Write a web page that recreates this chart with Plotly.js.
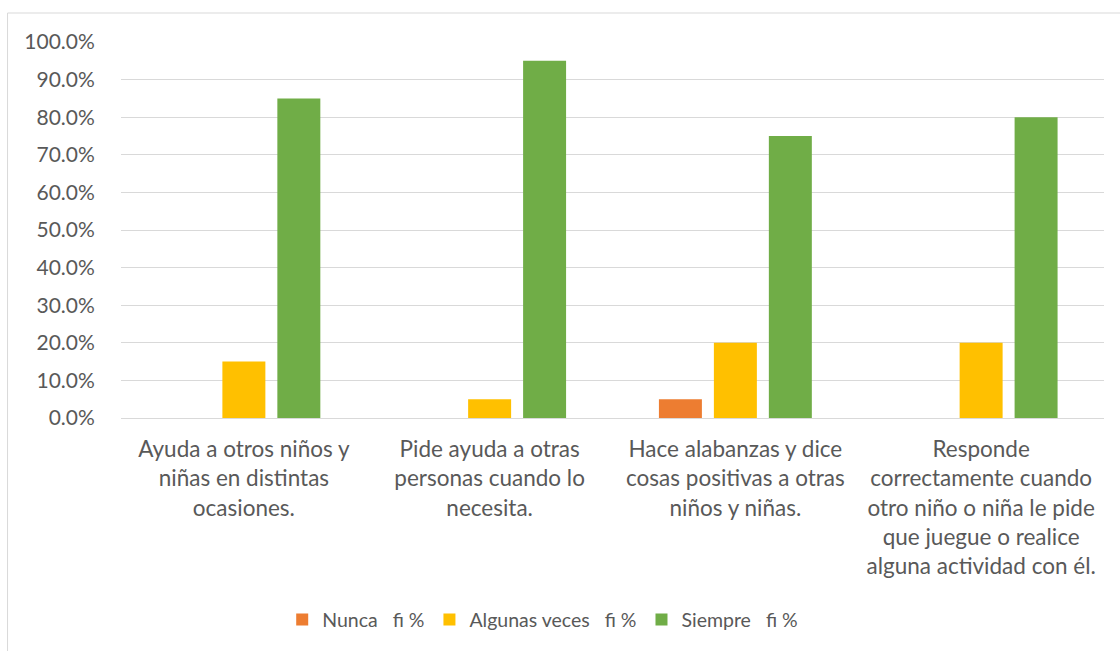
<!DOCTYPE html>
<html>
<head>
<meta charset="utf-8">
<script src="https://cdn.plot.ly/plotly-3.0.1.min.js"></script>
<style>html,body{margin:0;padding:0;background:#fff;}#chart{width:1120px;height:651px;}</style>
</head>
<body>
<div id="chart"></div>
<script>
const categories = [
  "Ayuda a otros niños y niñas en distintas ocasiones.",
  "Pide ayuda a otras personas cuando lo necesita.",
  "Hace alabanzas y dice cosas positivas a otras niños y niñas.",
  "Responde correctamente cuando otro niño o niña le pide que juegue o realice alguna actividad con él."
];
const categoryLabels = [
  "Ayuda a otros niños y<br>niñas en distintas<br>ocasiones.",
  "Pide ayuda a otras<br>personas cuando lo<br>necesita.",
  "Hace alabanzas y dice<br>cosas positivas a otras<br>niños y niñas.",
  "Responde<br>correctamente cuando<br>otro niño o niña le pide<br>que juegue o realice<br>alguna actividad con él."
];
const seriesNames = ["Nunca\u00a0\u00a0\u00a0fi %", "Algunas veces\u00a0\u00a0\u00a0fi %", "Siempre\u00a0\u00a0\u00a0fi %"];
const nunca = [0, 0, 0.05, 0];
const algunasVeces = [0.15, 0.05, 0.20, 0.20];
const siempre = [0.85, 0.95, 0.75, 0.80];
const colors = ["#ED7D31", "#FFC000", "#70AD47"];

const font = "Lato, 'Open Sans', sans-serif";
const values = [nunca, algunasVeces, siempre];
const data = values.map((v, i) => ({
  type: "bar",
  x: categories,
  y: v,
  name: seriesNames[i],
  marker: {color: colors[i]},
  hoverinfo: "y+name"
}));

const layout = {
  width: 1120,
  height: 651,
  margin: {l: 121, r: 16, t: 42, b: 233},
  paper_bgcolor: "#ffffff",
  plot_bgcolor: "#ffffff",
  font: {family: font, size: 21, color: "#595959"},
  barmode: "group",
  bargap: 0.329,
  bargroupgap: 0.218,
  xaxis: {
    tickmode: "array",
    tickvals: categories,
    ticktext: categoryLabels,
    ticks: "outside",
    ticklen: 11,
    tickcolor: "rgba(0,0,0,0)",
    showline: false,
    showgrid: false,
    zeroline: false,
    tickfont: {family: font, size: 22.5, color: "#595959"}
  },
  yaxis: {
    range: [0, 1],
    tickvals: [0, 0.1, 0.2, 0.3, 0.4, 0.5, 0.6, 0.7, 0.8, 0.9, 1.0],
    tickformat: ".1%",
    ticks: "outside",
    ticklen: 21,
    tickcolor: "rgba(0,0,0,0)",
    gridcolor: "#D9D9D9",
    gridwidth: 1,
    zeroline: true,
    zerolinecolor: "#D9D9D9",
    zerolinewidth: 1,
    showline: false,
    tickfont: {family: font, size: 21, color: "#595959"}
  },
  legend: {
    orientation: "h",
    x: 0.429,
    xanchor: "center",
    y: -0.537,
    yanchor: "middle",
    font: {family: font, size: 19.5, color: "#595959"},
    itemwidth: 20,
    tracegroupgap: 0
  },
  shapes: [{
    type: "rect",
    xref: "paper", yref: "paper",
    x0: -0.1154, x1: 1.05, y0: -0.7, y1: 1.0771,
    line: {color: "#D9D9D9", width: 1},
    fillcolor: "rgba(0,0,0,0)",
    layer: "below"
  }]
};

Plotly.newPlot("chart", data, layout, {displayModeBar: false, staticPlot: true});
</script>
</body>
</html>
